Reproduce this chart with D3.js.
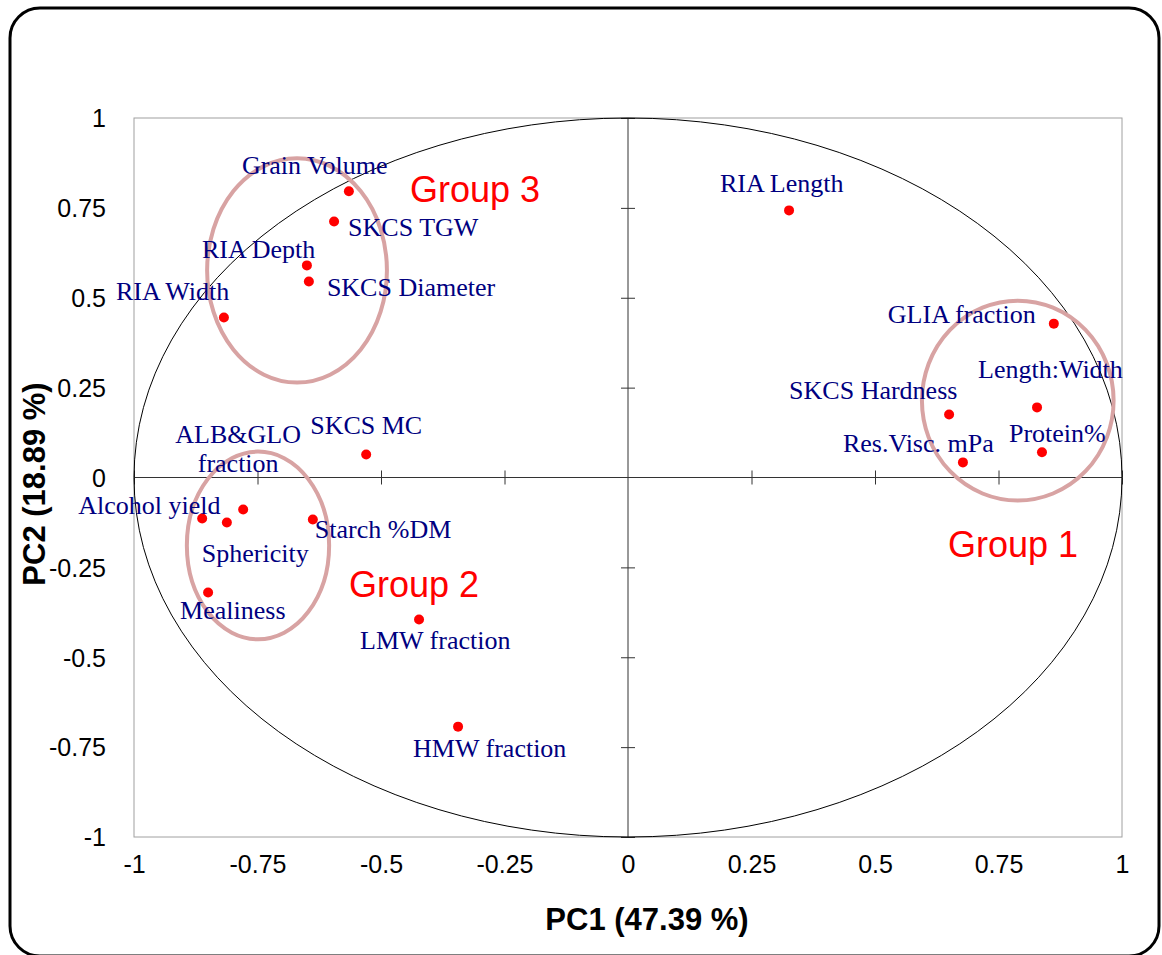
<!DOCTYPE html>
<html>
<head>
<meta charset="utf-8">
<script src="https://cdn.jsdelivr.net/npm/d3@7"></script>
<style>
  body { margin: 0; background: #fff; }
  svg { display: block; }
</style>
</head>
<body>
<script>
// variable loadings on PC1 / PC2
var names = ["Grain Volume", "SKCS TGW", "RIA Depth", "SKCS Diameter", "RIA Width",
  "SKCS MC", "ALB&GLO\nfraction", "Alcohol yield", "Sphericity", "Starch %DM", "Mealiness",
  "LMW fraction", "HMW fraction", "RIA Length", "GLIA fraction", "Length:Width",
  "SKCS Hardness", "Res.Visc. mPa", "Protein%"];
var pc1 = [-0.565, -0.595, -0.650, -0.646, -0.818, -0.530, -0.779, -0.862, -0.812, -0.638, -0.850,
  -0.423, -0.344, 0.326, 0.862, 0.828, 0.650, 0.678, 0.838];
var pc2 = [0.796, 0.712, 0.590, 0.545, 0.445, 0.064, -0.089, -0.114, -0.125, -0.117, -0.320,
  -0.395, -0.693, 0.743, 0.428, 0.195, 0.175, 0.042, 0.070];

// groups drawn as ellipses (data units)
var groupNames = ["Group 1", "Group 2", "Group 3"];
var groupCx = [0.789, -0.749, -0.670];
var groupCy = [0.214, -0.189, 0.576];
var groupRx = [0.194, 0.144, 0.182];
var groupRy = [0.278, 0.261, 0.312];

var ticks = [-1, -0.75, -0.5, -0.25, 0, 0.25, 0.5, 0.75, 1];

// label offsets from each point, in pixels (layout only)
var labelDx = [-107, 14, -105, 18, -108, -56, -5, -124, -25, 2, -28, -59, -45, -69, -166, -59, -160, -120, -33];
var labelDy = [-17, 14, -7, 14, -18, -20, -66, -4, 40, 18, 26, 29, 30, -18, -1, -29, -16, -10, -10];
var groupLabelX = [948, 349, 410];
var groupLabelY = [557, 597, 202];

var W = 1162, H = 955;
var svg = d3.select("body").append("svg").attr("width", W).attr("height", H);

// outer rounded frame
svg.append("rect").attr("x", 10).attr("y", 8).attr("width", 1149).attr("height", 948)
  .attr("rx", 30).attr("fill", "#fff").attr("stroke", "#000").attr("stroke-width", 3);

var x = d3.scaleLinear().domain([-1, 1]).range([134, 1122]);
var y = d3.scaleLinear().domain([-1, 1]).range([837, 118]);

// plot border
svg.append("rect").attr("x", x(-1)).attr("y", y(1))
  .attr("width", x(1) - x(-1)).attr("height", y(-1) - y(1))
  .attr("fill", "none").attr("stroke", "#a0a0a0").attr("stroke-width", 1);

// tick labels on the outside
var xLab = svg.append("g").attr("transform", "translate(0," + (y(-1) + 12) + ")")
  .call(d3.axisBottom(x).tickValues(ticks).tickSize(0).tickFormat(String));
var yLab = svg.append("g").attr("transform", "translate(" + (x(-1) - 25) + ",0)")
  .call(d3.axisLeft(y).tickValues(ticks).tickSize(0).tickFormat(String));
[xLab, yLab].forEach(function (g) {
  g.select(".domain").remove();
  g.selectAll("text").attr("font-family", "Liberation Sans, Arial, sans-serif")
    .attr("font-size", 25).attr("fill", "#000");
});
xLab.selectAll("text").attr("dy", "0.85em");
yLab.selectAll("text").attr("dy", "0.35em");

// crossing axes through the origin
var inner = ticks.filter(function (d) { return d !== 0; });
[d3.axisBottom, d3.axisTop].forEach(function (ax) {
  var g = svg.append("g").attr("transform", "translate(0," + y(0) + ")")
    .call(ax(x).tickValues(inner).tickSize(7).tickFormat(""));
  g.select(".domain").remove();
  g.selectAll("line").attr("stroke", "#333");
});
[d3.axisLeft, d3.axisRight].forEach(function (ax) {
  var g = svg.append("g").attr("transform", "translate(" + x(0) + ",0)")
    .call(ax(y).tickValues(inner).tickSize(7).tickFormat(""));
  g.select(".domain").remove();
  g.selectAll("line").attr("stroke", "#333");
});
svg.append("line").attr("x1", x(-1)).attr("x2", x(1)).attr("y1", y(0)).attr("y2", y(0))
  .attr("stroke", "#333").attr("stroke-width", 1);
svg.append("line").attr("x1", x(0)).attr("x2", x(0)).attr("y1", y(1)).attr("y2", y(-1))
  .attr("stroke", "#333").attr("stroke-width", 1);

// correlation circle
svg.append("ellipse").attr("cx", x(0)).attr("cy", y(0))
  .attr("rx", x(1) - x(0)).attr("ry", y(0) - y(1))
  .attr("fill", "none").attr("stroke", "#000").attr("stroke-width", 1);

// group ellipses
groupNames.forEach(function (gname, i) {
  svg.append("ellipse").attr("cx", x(groupCx[i])).attr("cy", y(groupCy[i]))
    .attr("rx", x(groupRx[i]) - x(0)).attr("ry", y(0) - y(groupRy[i]))
    .attr("fill", "none").attr("stroke", "#d8a3a3").attr("stroke-width", 4);
  svg.append("text").attr("x", groupLabelX[i]).attr("y", groupLabelY[i])
    .attr("font-family", "Liberation Sans, Arial, sans-serif").attr("font-size", 36)
    .attr("fill", "#ff0000").text(gname);
});

// points
svg.selectAll("circle.pt").data(names).enter().append("circle").attr("class", "pt")
  .attr("cx", function (d, i) { return x(pc1[i]); })
  .attr("cy", function (d, i) { return y(pc2[i]); })
  .attr("r", 5).attr("fill", "#ff0000");

// labels
names.forEach(function (n, i) {
  var lines = n.split("\n");
  var t = svg.append("text")
    .attr("font-family", "Liberation Serif, Times New Roman, serif").attr("font-size", 26)
    .attr("fill", "#000080");
  if (lines.length > 1) {
    var cx = x(pc1[i]) + labelDx[i];
    t.attr("text-anchor", "middle");
    lines.forEach(function (ln, j) {
      t.append("tspan").attr("x", cx).attr("y", y(pc2[i]) + labelDy[i] + j * 29).text(ln);
    });
  } else {
    t.attr("x", x(pc1[i]) + labelDx[i]).attr("y", y(pc2[i]) + labelDy[i]).text(n);
  }
});

// axis titles
svg.append("text").attr("x", 647).attr("y", 930).attr("text-anchor", "middle")
  .attr("font-family", "Liberation Sans, Arial, sans-serif").attr("font-weight", "bold")
  .attr("font-size", 31).text("PC1 (47.39 %)");
svg.append("text").attr("transform", "translate(45,484) rotate(-90)").attr("text-anchor", "middle")
  .attr("font-family", "Liberation Sans, Arial, sans-serif").attr("font-weight", "bold")
  .attr("font-size", 31).text("PC2 (18.89 %)");
</script>
</body>
</html>
